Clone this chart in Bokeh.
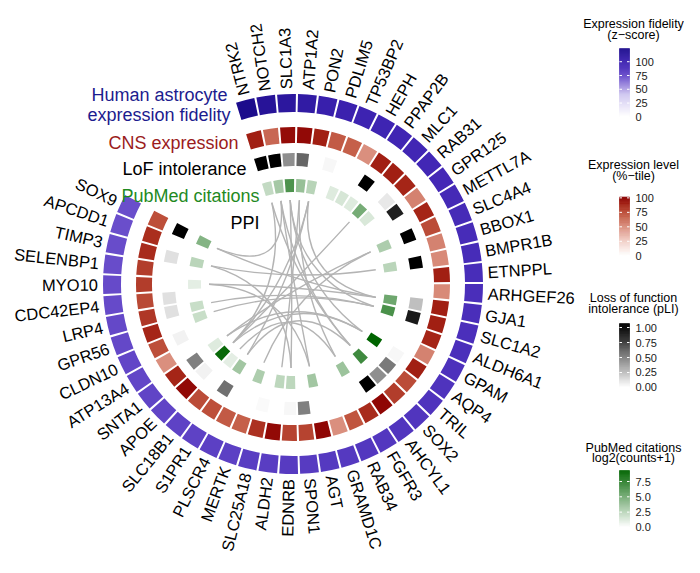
import numpy as np
from bokeh.plotting import figure
from bokeh.models import Range1d, ColumnDataSource
from bokeh.core.properties import value
from bokeh.embed import file_html
from bokeh.resources import INLINE

# ---------------- data ----------------
genes = ["NTRK2", "NOTCH2", "SLC1A3", "ATP1A2", "PON2", "PDLIM5", "TP53BP2", "HEPH", "PPAP2B", "MLC1",
         "RAB31", "GPR125", "METTL7A", "SLC4A4", "BBOX1", "BMPR1B", "ETNPPL", "ARHGEF26", "GJA1", "SLC1A2",
         "ALDH6A1", "GPAM", "AQP4", "TRIL", "SOX2", "AHCYL1", "FGFR3", "RAB34", "GRAMD1C", "AGT",
         "SPON1", "EDNRB", "ALDH2", "SLC25A18", "MERTK", "PLSCR4", "S1PR1", "SLC18B1", "APOE", "SNTA1",
         "ATP13A4", "CLDN10", "GPR56", "LRP4", "CDC42EP4", "MYO10", "SELENBP1", "TIMP3", "APCDD1", "SOX9"]

fidelity = [124, 116, 112, 108, 103, 101, 99, 98, 97, 96,
            95, 94, 93, 92, 91, 91, 90, 89, 89, 88,
            88, 87, 86, 86, 85, 85, 84, 84, 83, 83,
            82, 82, 81, 81, 80, 80, 79, 79, 78, 78,
            77, 77, 76, 76, 75, 75, 74, 74, 73, 73]

cns_expr = [90, 65, 96, 97, 90, 70, 68, 50, 90, 90,
            88, 55, 88, 75, 55, 52, 90, 52, 90, 90,
            88, 55, 90, 75, 80, 98, 86, 72, 50, 98,
            78, 78, 97, 84, 68, 70, 74, 75, 97, 88,
            50, 74, 88, 82, 76, 80, 80, 86, 85, 74]

lof_pli = [1.0, 1.0, 0.44, 0.6, 0.0, 0.03, 0.0, 0.0, 1.0, 0.0,
           0.09, 0.88, 0.0, 1.0, 0.0, 1.0, 0.0, 0.0, 0.25, 0.9,
           0.0, 0.0, 0.03, 0.52, 0.44, 1.0, 0.0, 0.0, 0.0, 0.0,
           0.5, 0.03, 0.0, 0.02, 0.0, 0.0, 0.56, 0.0, 0.05, 0.5,
           0.0, 0.05, 0.0, 0.12, 0.12, 0.0, 0.0, 0.12, 0.0, 1.0]

pubmed = [2.2, 3.3, 6.5, 3.8, 2.6, 0.0, 1.2, 1.5, 1.2, 5.0,
          1.4, 0.0, 0.0, 3.0, 0.0, 2.5, 0.0, 0.0, 5.3, 6.6,
          0.0, 0.0, 9.3, 0.0, 7.0, 0.0, 3.6, 0.0, 0.0, 3.4,
          0.0, 2.4, 2.4, 0.0, 3.0, 0.0, 3.4, 1.0, 9.0, 1.2,
          0.0, 0.0, 2.0, 2.0, 0.0, 1.0, 0.0, 2.5, 0.0, 4.5]

ppi_a = ["NTRK2", "NTRK2", "NOTCH2", "NOTCH2", "SLC1A3", "SLC1A3", "ATP1A2", "ATP1A2",
         "PON2", "PON2", "MLC1", "SLC4A4", "SLC4A4", "BMPR1B", "GJA1", "GJA1",
         "SLC1A2", "SLC1A2", "AQP4", "AQP4", "SOX2", "FGFR3", "AGT", "EDNRB",
         "SLC1A3", "NOTCH2", "PON2"]
ppi_b = ["SOX2", "APOE", "AGT", "SOX9", "EDNRB", "SLC1A2", "ALDH2", "FGFR3",
         "S1PR1", "GJA1", "APOE", "SNTA1", "MERTK", "TIMP3", "SOX9", "MYO10",
         "GPR56", "LRP4", "SNTA1", "APOE", "S1PR1", "SLC18B1", "MYO10", "TIMP3",
         "AQP4", "SOX2", "APOE"]

track_labels = ["Human astrocyte", "expression fidelity", "CNS expression",
                "LoF intolerance", "PubMed citations", "PPI"]

legend_titles = [["Expression fidelity", "(z\u2212score)"],
                 ["Expression level", "(%\u2212tile)"],
                 ["Loss of function", "intolerance (pLI)"],
                 ["PubMed citations", "log2(counts+1)"]]
fid_ticks = [0, 25, 50, 75, 100]
fid_tick_labels = ["0", "25", "50", "75", "100"]
cns_ticks = [0, 25, 50, 75, 100]
cns_tick_labels = ["0", "25", "50", "75", "100"]
lof_ticks = [0.0, 0.25, 0.5, 0.75, 1.0]
lof_tick_labels = ["0.00", "0.25", "0.50", "0.75", "1.00"]
pub_ticks = [0.0, 2.5, 5.0, 7.5]
pub_tick_labels = ["0.0", "2.5", "5.0", "7.5"]

# ---------------- colour scales ----------------
def hex2rgb(h):
    h = h.lstrip("#")
    return [int(h[i:i + 2], 16) for i in (0, 2, 4)]

def make_scale(stops):
    vs = np.array([s[0] for s in stops], float)
    cs = np.array([hex2rgb(s[1]) for s in stops], float)
    def f(v):
        out = []
        for x in np.atleast_1d(np.asarray(v, float)):
            rgb = [np.interp(x, vs, cs[:, k]) for k in range(3)]
            out.append("#%02x%02x%02x" % tuple(int(round(c)) for c in rgb))
        return out
    return f

blue_scale = make_scale([(0, "#ffffff"), (40, "#cfc6f0"), (73, "#6a4ecb"), (88, "#4b2fbb"),
                         (100, "#3c22b0"), (124, "#1c0c8c")])
red_scale = make_scale([(0, "#ffffff"), (25, "#f2d0c8"), (50, "#da8f7e"), (72, "#c0553f"),
                        (88, "#a52517"), (100, "#8b0000")])
grey_scale = make_scale([(0, "#ffffff"), (1, "#000000")])
green_scale = make_scale([(0, "#ffffff"), (9.3, "#006400")])

# ---------------- figure ----------------
W, H = 684, 557
def ix(X):
    a = np.asarray(X, float)
    return float(a) if a.ndim == 0 else a
def iy(Y):
    a = H - np.asarray(Y, float)
    return float(a) if np.ndim(a) == 0 else a

p = figure(width=W, height=H, x_range=Range1d(0, W), y_range=Range1d(0, H),
           output_backend="svg", toolbar_location=None, min_border=0,
           x_axis_location=None, y_axis_location=None)
p.grid.visible = False
p.outline_line_color = None
p.background_fill_color = "white"
p.border_fill_color = "white"

CX, CY = ix(292.5), iy(283.5)
THETA0, STEP = -14.6, 6.32
n = len(genes)
theta = THETA0 + STEP * np.arange(n)          # degrees, clockwise from north
th = np.radians(theta)

def ring(r0, r1, colors, gap_px=2.0):
    rm = 0.5 * (r0 + r1)
    half = np.radians(STEP) / 2 - (gap_px / rm) / 2
    base = np.pi / 2 - th
    src = ColumnDataSource(dict(start=base - half, end=base + half, color=colors))
    p.annular_wedge(x=CX, y=CY, inner_radius=r0, outer_radius=r1,
                    start_angle="start", end_angle="end",
                    fill_color="color", line_color=None, source=src)

ring(172, 190, blue_scale(fidelity))
ring(141, 157, red_scale(cns_expr))
ring(118, 131, grey_scale(lof_pli))
ring(92, 105, green_scale(pubmed))

# PPI links
R_LINK = 84
gi = {g: i for i, g in enumerate(genes)}
a = th[[gi[g] for g in ppi_a]]
b = th[[gi[g] for g in ppi_b]]
x0 = CX + R_LINK * np.sin(a); y0 = CY + R_LINK * np.cos(a)
x1 = CX + R_LINK * np.sin(b); y1 = CY + R_LINK * np.cos(b)
k = 0.12
qcx = CX + k * ((x0 + x1) / 2 - CX)
qcy = CY + k * ((y0 + y1) / 2 - CY)
p.quadratic(x0=x0, y0=y0, x1=x1, y1=y1, cx=qcx, cy=qcy,
            line_color="#b4b4b4", line_width=1.4)

# gene labels
R_LAB = 195
thn = np.mod(theta, 360)
flip = (thn >= 180) & (thn < 330)
lx = CX + R_LAB * np.sin(th)
ly = CY + R_LAB * np.cos(th)
ang = np.where(flip, np.radians(270 - theta), np.radians(90 - theta))
garr = np.array(genes)
for mask, al in ((~flip, "left"), (flip, "right")):
    p.text(x=lx[mask], y=ly[mask], text=list(garr[mask]), angle=ang[mask],
           text_align=al, text_baseline="middle", text_font=value("Liberation Sans"),
           text_font_size="16.5px", text_color="black")

# track labels
tl_x = [227, 230, 238, 246, 259, 259]
tl_y = [94, 114, 142, 168, 195, 222]
tl_c = ["#1c1c8e", "#1c1c8e", "#9b1c1c", "#000000", "#1f8a1f", "#000000"]
p.text(x=ix(tl_x), y=iy(tl_y), text=track_labels, text_align="right",
       text_baseline="alphabetic", text_font=value("Liberation Sans"),
       text_font_size="18px", text_color=tl_c)

# colour bar legends (column shifted left so that it fits in the canvas)
LX = -13
def colorbar(scale, v_top, v_bot, y_top, y_bot, ticks, labels, titles, title_ys):
    nseg = 70
    edges = np.linspace(y_top, y_bot, nseg + 1)
    mids = (edges[:-1] + edges[1:]) / 2
    vals = v_top + (v_bot - v_top) * (mids - y_top) / (y_bot - y_top)
    cols = scale(vals)
    p.quad(left=ix(632 + LX), right=ix(642 + LX), top=iy(edges[:-1]), bottom=iy(edges[1:]),
           fill_color=cols, line_color=cols, line_width=0.6)
    ty = y_top + (v_top - np.array(ticks, float)) / (v_top - v_bot) * (y_bot - y_top)
    for xa, xb in ((632, 634.5), (639.5, 642)):
        p.segment(x0=ix(xa + LX), x1=ix(xb + LX), y0=iy(ty), y1=iy(ty),
                  line_color="white", line_width=1)
    p.text(x=ix(648 + LX), y=iy(ty), text=labels, text_align="left", text_baseline="middle",
           text_font=value("Liberation Sans"), text_font_size="11px", text_color="#1a1a1a")
    p.text(x=ix(646 + LX), y=iy(title_ys), text=titles, text_align="center", text_baseline="middle",
           text_font=value("Liberation Sans"), text_font_size="12.5px", text_color="black")

colorbar(blue_scale, 124, -3, 48, 118, fid_ticks, fid_tick_labels, legend_titles[0], [23, 34])
colorbar(red_scale, 101.5, -3, 196.5, 257, cns_ticks, cns_tick_labels, legend_titles[1], [164, 175])
colorbar(grey_scale, 1.067, -0.067, 323, 391, lof_ticks, lof_tick_labels, legend_titles[2], [297, 308])
colorbar(green_scale, 9.3, -0.5, 470, 530, pub_ticks, pub_tick_labels, legend_titles[3], [447, 457])

open("out.html", "w").write(file_html(p, INLINE))
